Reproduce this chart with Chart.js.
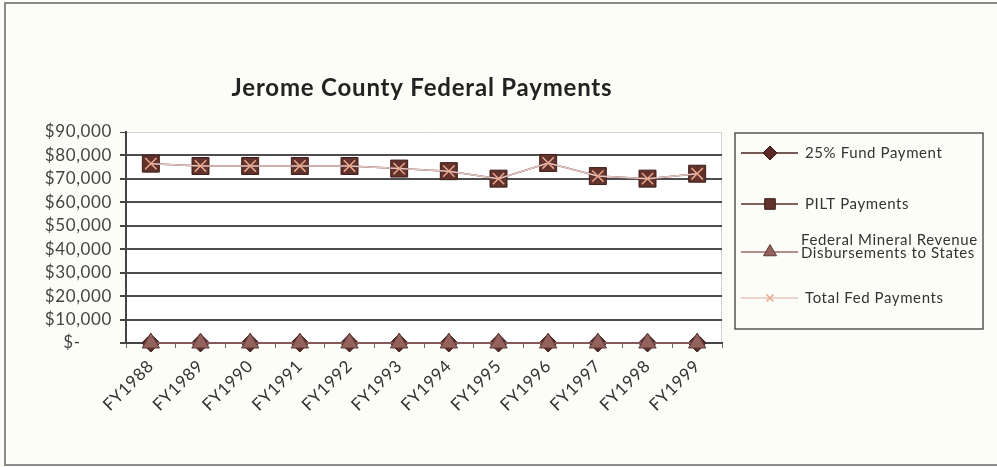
<!DOCTYPE html>
<html>
<head>
<meta charset="utf-8">
<title>Jerome County Federal Payments</title>
<script src="https://cdn.jsdelivr.net/npm/chart.js"></script>
<style>
  html, body { margin: 0; padding: 0; background: #fdfdf8; }
  #wrap { width: 997px; height: 467px; }
</style>
</head>
<body>
<div id="wrap"><canvas id="paymentsChart" width="997" height="467"></canvas></div>
<script>
//<![CDATA[

let years = ['FY1988', 'FY1989', 'FY1990', 'FY1991', 'FY1992', 'FY1993',
             'FY1994', 'FY1995', 'FY1996', 'FY1997', 'FY1998', 'FY1999'];
let fundPayment = [0, 0, 0, 0, 0, 0, 0, 0, 0, 0, 0, 0];
let piltPayments = [76500, 75500, 75500, 75500, 75500, 74400, 73300, 70100, 76800, 71200, 70100, 72200];
let mineralDisbursements = [0, 0, 0, 0, 0, 0, 0, 0, 0, 0, 0, 0];
let totalFedPayments = [76500, 75500, 75500, 75500, 75500, 74400, 73300, 70100, 76800, 71200, 70100, 72200];
let yTicks = [0, 10000, 20000, 30000, 40000, 50000, 60000, 70000, 80000, 90000];

const fontFamily = 'Lato, "Open Sans", sans-serif';

// legend rows: which dataset, y of the marker, text lines
let legendRows = [
    { ds: 0, y: 153, lines: ['25% Fund Payment'] },
    { ds: 1, y: 204, lines: ['PILT Payments'] },
    { ds: 2, y: 252, lines: ['Federal Mineral Revenue', 'Disbursements to States'] },
    { ds: 3, y: 298, lines: ['Total Fed Payments'] }
];

function marker(ctx, ds, x, y, radius) {
    ctx.save();
    ctx.fillStyle = ds.pointBackgroundColor;
    ctx.strokeStyle = ds.pointBorderColor;
    ctx.lineWidth = ds.pointBorderWidth;
    Chart.helpers.drawPoint(ctx, {
        pointStyle: ds.pointStyle,
        radius: radius,
        rotation: 0,
        borderWidth: ds.pointBorderWidth
    }, x, y);
    ctx.restore();
}

const framePlugin = {
    id: 'frame',
    beforeDraw(chart) {
        const ctx = chart.ctx;
        const a = chart.chartArea;
        ctx.save();
        ctx.fillStyle = '#fdfdf8';
        ctx.fillRect(0, 0, chart.width, chart.height);
        ctx.strokeStyle = '#8a8a8a';
        ctx.lineWidth = 2;
        ctx.strokeRect(5, 3, chart.width + 10, chart.height - 5);
        ctx.fillStyle = '#ffffff';
        ctx.fillRect(a.left, a.top, a.right - a.left, a.bottom - a.top);
        ctx.strokeStyle = '#d4d4d4';
        ctx.lineWidth = 1;
        ctx.beginPath();
        ctx.moveTo(a.right - 0.5, a.top);
        ctx.lineTo(a.right - 0.5, a.bottom);
        ctx.stroke();
        ctx.restore();
        // the labels are set a little wider than plain Lato
        ctx.letterSpacing = '0.6px';
    },
    afterDraw(chart) {
        const ctx = chart.ctx;
        const a = chart.chartArea;
        ctx.save();

        // title
        ctx.fillStyle = '#222';
        ctx.font = 'bold 24px ' + fontFamily;
        ctx.letterSpacing = '0.8px';
        ctx.textAlign = 'center';
        ctx.textBaseline = 'middle';
        ctx.fillText('Jerome County Federal Payments', (a.left + a.right) / 2 - 2, 88);

        // legend box
        ctx.strokeStyle = '#555';
        ctx.lineWidth = 1.5;
        ctx.strokeRect(735, 133, 248, 196);

        ctx.font = '15px ' + fontFamily;
        ctx.letterSpacing = '0.6px';
        ctx.fillStyle = '#333';
        ctx.textAlign = 'left';
        const sizes = [7, 7.5, 7.5, 5];
        legendRows.forEach(function(row) {
            const ds = chart.data.datasets[row.ds];
            ctx.strokeStyle = ds.borderColor;
            ctx.lineWidth = ds.borderWidth;
            ctx.beginPath();
            ctx.moveTo(741, row.y);
            ctx.lineTo(798, row.y);
            ctx.stroke();
            marker(ctx, ds, 770, row.y, sizes[row.ds]);
            ctx.fillStyle = '#333';
            if (row.lines.length === 1) {
                ctx.fillText(row.lines[0], 805, row.y);
            } else {
                ctx.fillText(row.lines[0], 801, row.y - 12);
                ctx.fillText(row.lines[1], 801, row.y + 1);
            }
        });
        ctx.restore();
    }
};

const ctx = document.getElementById('paymentsChart');
const paymentsChart = new Chart(ctx, {
    type: 'line',
    data: {
        labels: years,
        datasets: [
            {
                label: '25% Fund Payment',
                data: fundPayment,
                borderColor: '#4a2222',
                borderWidth: 1.5,
                pointStyle: 'rectRot',
                pointRadius: 9,
                pointBackgroundColor: '#5a2a28',
                pointBorderColor: '#3a1818',
                pointBorderWidth: 1,
                clip: false,
                order: 3
            },
            {
                label: 'PILT Payments',
                data: piltPayments,
                borderColor: '#5c2e2a',
                borderWidth: 1.5,
                pointStyle: 'rect',
                pointRadius: 12,
                pointBackgroundColor: '#62332c',
                pointBorderColor: '#3e1e1a',
                pointBorderWidth: 1,
                clip: false,
                order: 2
            },
            {
                label: 'Federal Mineral Revenue Disbursements to States',
                data: mineralDisbursements,
                borderColor: '#9a6a6a',
                borderWidth: 1.5,
                pointStyle: 'triangle',
                pointRadius: 10,
                pointBackgroundColor: '#93625c',
                pointBorderColor: '#5e3a36',
                pointBorderWidth: 1,
                clip: false,
                order: 1
            },
            {
                label: 'Total Fed Payments',
                data: totalFedPayments,
                borderColor: '#e6c6c2',
                borderWidth: 1.5,
                pointStyle: 'crossRot',
                pointRadius: 8,
                pointBackgroundColor: '#eaa88e',
                pointBorderColor: '#eaa88e',
                pointBorderWidth: 1.5,
                clip: false,
                order: 0
            }
        ]
    },
    options: {
        responsive: false,
        animation: false,
        events: [],
        layout: {
            padding: { top: 132, right: 275, left: 0, bottom: 0 }
        },
        plugins: {
            legend: { display: false },
            title: { display: false },
            tooltip: { enabled: false }
        },
        scales: {
            x: {
                offset: true,
                grid: {
                    display: true,
                    drawOnChartArea: false,
                    drawTicks: true,
                    tickLength: 5,
                    color: '#666',
                    offset: true
                },
                border: { display: true, color: '#444', width: 2 },
                ticks: {
                    autoSkip: false,
                    maxRotation: 45,
                    minRotation: 45,
                    padding: 8,
                    color: '#333',
                    font: { family: fontFamily, size: 17 }
                },
                afterFit: function(scale) {
                    scale.height = 124;
                }
            },
            y: {
                min: 0,
                max: 90000,
                afterBuildTicks: function(scale) {
                    scale.ticks = yTicks.map(function(v) { return { value: v }; });
                },
                grid: {
                    color: function(c) {
                        return c.tick && c.tick.value === 90000 ? '#d4d4d4' : '#4d4d4d';
                    },
                    lineWidth: function(c) {
                        return c.tick && c.tick.value === 90000 ? 1 : 2;
                    },
                    tickColor: '#444',
                    tickLength: 6
                },
                border: { display: true, color: '#444', width: 2 },
                ticks: {
                    padding: 8,
                    color: '#444',
                    font: { family: fontFamily, size: 17 },
                    callback: function(v) {
                        if (v === 0) return '$-\u2007\u2007\u2007';
                        return '$' + v.toLocaleString('en-US');
                    }
                },
                afterFit: function(scale) {
                    scale.width = 126;
                }
            }
        }
    },
    plugins: [framePlugin]
});

// ]]>
</script>
</body>
</html>
